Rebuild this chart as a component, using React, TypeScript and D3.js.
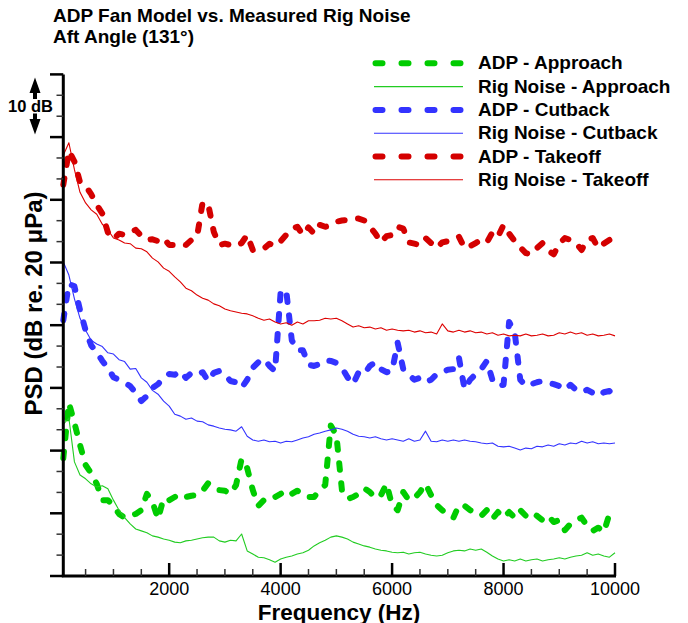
import React from 'react';
import * as d3 from 'd3';

// Frequency grid (Hz)
const FREQ_HZ = [
  100, 200, 300, 400, 500, 600, 700, 800, 900, 1000,
  1100, 1200, 1300, 1400, 1500, 1600, 1700, 1800, 1900, 2000,
  2100, 2200, 2300, 2400, 2500, 2600, 2700, 2800, 2900, 3000,
  3100, 3200, 3300, 3400, 3500, 3600, 3700, 3800, 3900, 4000,
  4100, 4200, 4300, 4400, 4500, 4600, 4700, 4800, 4900, 5000,
  5100, 5200, 5300, 5400, 5500, 5600, 5700, 5800, 5900, 6000,
  6100, 6200, 6300, 6400, 6500, 6600, 6700, 6800, 6900, 7000,
  7100, 7200, 7300, 7400, 7500, 7600, 7700, 7800, 7900, 8000,
  8100, 8200, 8300, 8400, 8500, 8600, 8700, 8800, 8900, 9000,
  9100, 9200, 9300, 9400, 9500, 9600, 9700, 9800, 9900, 10000,
];

// Relative PSD (dB)
const ADP_APPROACH = [
  18.8, 27.6, 24.4, 20.9, 17.7, 16.4, 14.7, 12.1, 12.1, 11.2,
  9.9, 9.3, 9.7, 9.9, 10.5, 13.1, 11.8, 9.1, 12.4, 12.1,
  12.6, 13.1, 12.6, 12.8, 12.9, 13.6, 14.8, 14.2, 13.7, 13.6,
  13.1, 14.5, 18.7, 17.2, 13.7, 11.2, 12.1, 12.0, 12.6, 13.1,
  13.7, 13.1, 13.6, 12.9, 12.6, 12.6, 13.7, 14.5, 24.0, 22.5,
  13.7, 12.3, 12.6, 13.1, 14.0, 13.4, 12.4, 12.9, 14.7, 11.3,
  10.5, 13.4, 12.1, 12.4, 13.4, 14.7, 12.9, 11.3, 10.5, 9.6,
  9.3, 11.3, 11.2, 10.5, 10.2, 9.6, 10.5, 9.1, 10.2, 9.3,
  10.2, 9.3, 10.5, 9.6, 10.2, 9.6, 8.9, 9.6, 8.6, 8.9,
  7.3, 8.3, 8.9, 9.3, 8.0, 7.2, 7.7, 7.0, 9.9, 8.9,
];

const RIG_APPROACH = [
  24.2, 25.2, 18.2, 16.1, 15.5, 14.7, 14.2, 14.4, 13.9, 12.1,
  10.5, 9.3, 8.3, 7.5, 7.2, 6.9, 6.4, 6.2, 5.9, 5.7,
  5.4, 5.3, 5.6, 5.7, 5.9, 6.1, 6.2, 6.2, 5.6, 5.4,
  5.7, 5.6, 6.7, 4.0, 3.5, 3.0, 2.9, 2.6, 2.2, 2.7,
  3.0, 3.2, 3.5, 3.7, 4.1, 4.8, 5.3, 5.7, 6.2, 6.4,
  6.2, 5.9, 5.4, 5.1, 4.8, 4.6, 4.3, 4.1, 4.0, 3.8,
  3.7, 3.8, 3.5, 3.7, 3.8, 3.5, 3.3, 3.2, 3.3, 3.7,
  4.0, 4.1, 4.0, 4.3, 4.1, 4.3, 3.8, 3.2, 2.7, 2.4,
  2.6, 2.4, 2.7, 2.4, 2.6, 2.7, 2.4, 2.6, 2.7, 2.9,
  2.7, 3.0, 3.2, 3.3, 3.7, 3.3, 3.5, 3.2, 3.0, 3.7,
];

const ADP_CUTBACK = [
  40.8, 46.6, 46.2, 42.4, 39.2, 36.8, 35.7, 34.3, 33.2, 31.7,
  31.3, 30.8, 30.3, 29.2, 27.9, 28.7, 30.0, 30.6, 31.6, 32.2,
  32.1, 32.7, 31.6, 32.4, 32.1, 32.5, 31.1, 32.4, 32.7, 32.1,
  31.1, 30.9, 30.0, 31.3, 33.2, 34.1, 34.6, 33.5, 32.7, 45.3,
  45.6, 37.6, 36.0, 36.0, 33.7, 33.5, 33.8, 34.4, 34.3, 34.0,
  33.2, 31.7, 30.6, 32.5, 32.2, 33.5, 34.1, 33.0, 32.5, 32.7,
  37.2, 33.0, 32.1, 31.3, 31.6, 30.9, 31.3, 32.2, 32.5, 32.9,
  33.0, 34.8, 29.8, 31.3, 32.2, 33.0, 34.3, 31.3, 30.3, 30.5,
  40.5, 38.9, 31.3, 30.3, 30.6, 30.9, 31.1, 30.8, 30.6, 30.3,
  29.7, 30.5, 29.7, 29.3, 29.7, 29.2, 28.7, 29.3, 29.5, 28.4,
];

const RIG_CUTBACK = [
  50.1, 48.0, 44.2, 41.1, 39.2, 37.6, 37.0, 36.6, 35.6, 35.4,
  34.5, 34.2, 33.0, 33.1, 31.6, 30.9, 29.6, 29.0, 27.9, 27.1,
  25.8, 25.5, 25.0, 25.2, 24.7, 24.6, 24.1, 23.9, 23.6, 23.4,
  23.3, 23.1, 23.8, 22.3, 21.7, 21.5, 21.7, 21.4, 21.5, 21.2,
  21.5, 21.4, 21.7, 22.0, 22.2, 22.6, 22.8, 23.1, 23.3, 23.6,
  23.4, 23.1, 22.6, 22.3, 22.2, 22.0, 22.2, 21.9, 21.7, 21.9,
  21.7, 21.5, 21.9, 21.5, 21.7, 23.1, 21.5, 21.4, 21.7, 21.5,
  21.7, 21.5, 21.7, 21.5, 21.4, 21.2, 21.1, 21.2, 20.7, 20.6,
  20.7, 20.4, 20.1, 20.4, 20.3, 20.7, 20.6, 20.9, 20.7, 21.1,
  20.9, 21.2, 21.1, 21.5, 21.2, 21.4, 21.1, 21.2, 21.1, 21.2,
];

const ADP_TAKEOFF = [
  62.4, 67.8, 66.1, 62.8, 62.2, 60.9, 59.2, 57.8, 54.8, 53.7,
  54.6, 54.4, 54.9, 55.2, 54.2, 53.6, 53.7, 53.4, 53.9, 52.8,
  52.8, 53.0, 52.8, 53.6, 54.1, 59.6, 59.3, 54.9, 52.8, 53.0,
  52.8, 52.6, 53.1, 54.4, 52.0, 52.0, 52.2, 53.0, 52.6, 53.4,
  54.4, 55.4, 55.7, 54.4, 55.6, 54.6, 56.0, 55.7, 55.9, 56.5,
  56.7, 56.8, 57.0, 57.0, 56.7, 55.7, 54.6, 53.2, 54.2, 54.4,
  55.7, 55.4, 53.2, 53.0, 52.8, 53.9, 53.1, 52.3, 53.2, 53.4,
  53.9, 54.1, 52.3, 52.6, 53.1, 53.6, 53.2, 54.8, 54.1, 56.0,
  54.6, 53.4, 52.4, 51.5, 51.3, 52.3, 53.1, 51.9, 51.3, 53.0,
  53.9, 53.6, 53.1, 52.0, 53.6, 53.9, 52.3, 53.0, 53.6, 52.8,
];

const RIG_TAKEOFF = [
  67.1, 69.1, 64.8, 61.2, 59.5, 58.4, 57.7, 56.1, 55.2, 53.9,
  53.6, 53.1, 53.0, 52.3, 52.2, 51.7, 50.7, 50.1, 49.1, 48.6,
  47.7, 46.9, 45.9, 45.5, 44.8, 44.3, 44.0, 43.4, 43.1, 42.6,
  42.3, 42.1, 41.9, 41.8, 41.5, 41.1, 40.8, 41.0, 40.5, 40.2,
  40.4, 40.0, 40.5, 40.2, 40.7, 40.7, 40.8, 41.1, 41.0, 41.1,
  40.7, 40.2, 39.7, 39.9, 39.6, 39.7, 39.4, 39.6, 39.2, 39.4,
  39.2, 39.1, 39.2, 38.9, 39.1, 38.8, 38.9, 38.6, 40.2, 39.1,
  38.9, 39.2, 38.9, 39.1, 38.8, 38.9, 38.6, 38.8, 38.4, 38.6,
  38.3, 38.4, 38.3, 38.6, 38.3, 38.4, 38.6, 38.3, 38.4, 38.8,
  38.6, 38.9, 38.6, 38.8, 38.4, 38.6, 38.3, 38.4, 38.6, 38.3,
];

const SERIES_NAMES = [
  'ADP - Approach', 'Rig Noise - Approach',
  'ADP - Cutback', 'Rig Noise - Cutback',
  'ADP - Takeoff', 'Rig Noise - Takeoff',
];

const X_MAJOR_TICKS = [2000, 4000, 6000, 8000, 10000];
const X_MINOR_TICKS = [500, 1000, 1500, 2500, 3000, 3500, 4500, 5000, 5500, 6500, 7000, 7500, 8500, 9000, 9500];
const Y_MAJOR_TICKS = [0, 10, 20, 30, 40, 50, 60, 70, 80];
const Y_MINOR_TICKS = [3.33, 6.67, 13.33, 16.67, 23.33, 26.67, 33.33, 36.67, 43.33, 46.67, 53.33, 56.67, 63.33, 66.67, 73.33, 76.67];

const TITLE_LINES = ['ADP Fan Model vs. Measured Rig Noise', 'Aft Angle (131\u00b0)'];
const X_TITLE = 'Frequency (Hz)';
const Y_TITLE = 'PSD (dB re. 20 \u03bcPa)';

const FONT = '"Liberation Sans", Arial, Helvetica, sans-serif';

export default function App() {
  const W = 688, H = 623;
  const left = 63.3, right = 615, top = 74.4, bottom = 576;
  const x = d3.scaleLinear().domain([100, 10000]).range([left, right]);
  const y = d3.scaleLinear().domain([0, 80]).range([bottom, top]);
  const line = d3.line<number>().x((_, i) => x(FREQ_HZ[i])).y((v) => y(v));

  const series = [
    { name: SERIES_NAMES[0], values: ADP_APPROACH, color: '#00cc00', dashed: true },
    { name: SERIES_NAMES[1], values: RIG_APPROACH, color: '#22cc22', dashed: false },
    { name: SERIES_NAMES[2], values: ADP_CUTBACK, color: '#3333ff', dashed: true },
    { name: SERIES_NAMES[3], values: RIG_CUTBACK, color: '#3333ff', dashed: false },
    { name: SERIES_NAMES[4], values: ADP_TAKEOFF, color: '#d40000', dashed: true },
    { name: SERIES_NAMES[5], values: RIG_TAKEOFF, color: '#dd0000', dashed: false },
  ];

  const dashW = 6;
  const plotDash = '6.5 13.5';
  const legendDash = '7 19';

  return (
    <svg width={W} height={H} style={{ position: 'absolute', left: 0, top: 0, background: '#fff' }} fontFamily={FONT}>
      <rect x={0} y={0} width={W} height={H} fill="#fff" />
      {/* Title */}
      <text fontSize={19} fontWeight="bold" fill="#000">
        {TITLE_LINES.map((t, i) => (
          <tspan key={t} x={53} y={21.5 + i * 21.3}>{t}</tspan>
        ))}
      </text>

      {/* Series */}
      {series.map((s) => (
        <path key={s.name} d={line(s.values) || ''} fill="none" stroke={s.color}
          strokeWidth={s.dashed ? dashW : 1.1}
          strokeDasharray={s.dashed ? plotDash : undefined}
          strokeLinecap={s.dashed ? 'round' : 'butt'}
          strokeLinejoin="round" />
      ))}

      {/* Axes */}
      <line x1={left} x2={left} y1={top} y2={bottom} stroke="#000" strokeWidth={3} />
      <line x1={left - 1.5} x2={right + 1} y1={bottom} y2={bottom} stroke="#000" strokeWidth={3} />
      {Y_MAJOR_TICKS.map((t) => (
        <line key={'ym' + t} x1={50} x2={left} y1={y(t)} y2={y(t)} stroke="#000" strokeWidth={2.5} />
      ))}
      {Y_MINOR_TICKS.map((t) => (
        <line key={'yn' + t} x1={56.5} x2={left} y1={y(t)} y2={y(t)} stroke="#333" strokeWidth={1.5} />
      ))}
      {X_MAJOR_TICKS.map((t) => (
        <line key={'xm' + t} x1={x(t)} x2={x(t)} y1={bottom} y2={bottom - 13} stroke="#000" strokeWidth={2.5} />
      ))}
      {X_MINOR_TICKS.map((t) => (
        <line key={'xn' + t} x1={x(t)} x2={x(t)} y1={bottom} y2={bottom - 7} stroke="#333" strokeWidth={1.5} />
      ))}
      {X_MAJOR_TICKS.map((t) => (
        <text key={'xl' + t} x={x(t)} y={595} fontSize={18} textAnchor="middle" fill="#000">{t}</text>
      ))}

      {/* Axis titles */}
      <text x={339} y={619.5} fontSize={22.5} fontWeight="bold" textAnchor="middle" fill="#000">{X_TITLE}</text>
      <text transform={`translate(41.5, 303.5) rotate(-90)`} fontSize={24} fontWeight="bold" textAnchor="middle" fill="#000">{Y_TITLE}</text>

      {/* 10 dB marker */}
      <path d={`M35,77.5 L40.5,93 L37,93 L37,99 L33,99 L33,93 L29.5,93 Z`} fill="#000" />
      <path d={`M35,134.5 L40.5,119 L37,119 L37,113.5 L33,113.5 L33,119 L29.5,119 Z`} fill="#000" />
      <text x={30.5} y={111.5} fontSize={16.5} fontWeight="bold" textAnchor="middle" fill="#000">10 dB</text>

      {/* Legend */}
      {series.map((s, i) => {
        const ly = 63.3 + i * 23.3;
        return (
          <g key={'lg' + s.name}>
            {s.dashed ? (
              <line x1={375.5} x2={461} y1={ly} y2={ly} stroke={s.color} strokeWidth={dashW}
                strokeDasharray={legendDash} strokeLinecap="round" />
            ) : (
              <line x1={374} x2={463} y1={ly} y2={ly} stroke={s.color} strokeWidth={1.1} />
            )}
            <text x={478} y={ly + 6} fontSize={19} fontWeight="bold" fill="#000">{s.name}</text>
          </g>
        );
      })}
    </svg>
  );
}
